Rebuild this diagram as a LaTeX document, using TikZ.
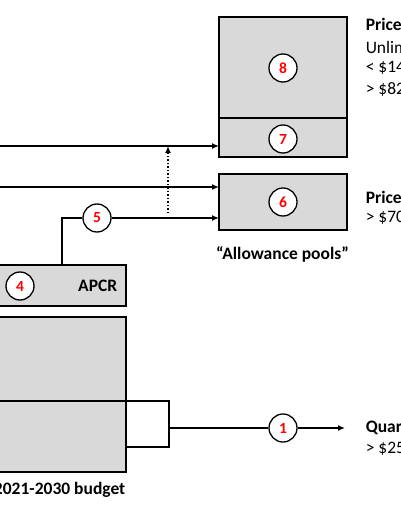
\documentclass[tikz,border=0pt]{standalone}
\usepackage{fontspec}
\setmainfont{Carlito}
\usetikzlibrary{arrows.meta}
\definecolor{boxgray}{RGB}{217,217,217}
\begin{document}
\begin{tikzpicture}[x=1pt,y=-1pt, line width=1.5pt,
  box/.style={draw, fill=boxgray, line width=1.7pt, inner sep=0pt, outer sep=0pt},
  num/.style={circle, draw, fill=white, minimum size=28pt, inner sep=0pt, line width=1.3pt,
    text=red, font=\bfseries\fontsize{15.5}{15.5}\selectfont},
  lbl/.style={anchor=west, inner sep=0pt, font=\fontsize{17.5}{20}\selectfont},
  blbl/.style={lbl, font=\bfseries\fontsize{17.5}{20}\selectfont},
  arr/.style={-{Latex[length=7pt,width=6pt]}}]
\useasboundingbox (0,0) rectangle (400,516);
% boxes
\node[box, minimum width=128pt, minimum height=101pt] (b8) at (283,67.5) {};
\node[box, minimum width=128pt, minimum height=39pt] (b7) at (283,137.5) {};
\node[box, minimum width=128pt, minimum height=56pt] (b6) at (283,202) {};
\node[box, minimum width=129pt, minimum height=41pt] (apcr) at (61.5,285.5) {};
\node[box, minimum width=129pt, minimum height=84pt] (bu) at (61.5,359) {};
\node[box, minimum width=129pt, minimum height=71pt] (bl) at (61.5,436.5) {};
\node[draw, fill=white, line width=1.7pt, inner sep=0pt, minimum width=43pt, minimum height=46pt] (br) at (147.5,424) {};
% circles
\node[num] (c8) at (283,68) {8};
\node[num] (c7) at (283,139) {7};
\node[num] (c6) at (283,202) {6};
\node[num] (c5) at (97,218) {5};
\node[num] (c4) at (20,286) {4};
\node[num] (c1) at (283,428) {1};
% labels
\node[blbl, anchor=east] (tapcr) at (118,286) {APCR};
\node[blbl, anchor=center] (tpools) at (282.5,254) {“Allowance pools”};
\node[blbl, anchor=east] (tbud) at (126,490) {2021-2030 budget};
\node[blbl] (p1) at (365,24) {Price};
\node[lbl] (p1a) at (365,47) {Unlim};
\node[lbl] (p1b) at (365,68) {< \$14};
\node[lbl] (p1c) at (365,89) {> \$82};
\node[blbl] (p2) at (365,197) {Price};
\node[lbl] (p2a) at (365,218) {> \$70};
\node[blbl] (q) at (365,428) {Quar};
\node[lbl] (qa) at (365,449) {> \$25};
% connectors
\coordinate (s1) at (0,146);
\coordinate (s2) at (0,187);
\coordinate (d) at (168,213);
\coordinate (e1) at (345,428);
\draw[arr] (s1) -- (s1 -| b7.west);
\draw[arr] (s2) -- (s2 -| b6.west);
\draw[arr, dotted] (d) -- (d |- s1);
\draw ([xshift=0.5pt]apcr.north) |- (c5.west);
\draw[arr] (c5.east) -- (c5.east -| b6.west);
\draw (c1 -| br.east) -- (c1.west);
\draw[arr] (c1.east) -- (e1);
\end{tikzpicture}
\end{document}
